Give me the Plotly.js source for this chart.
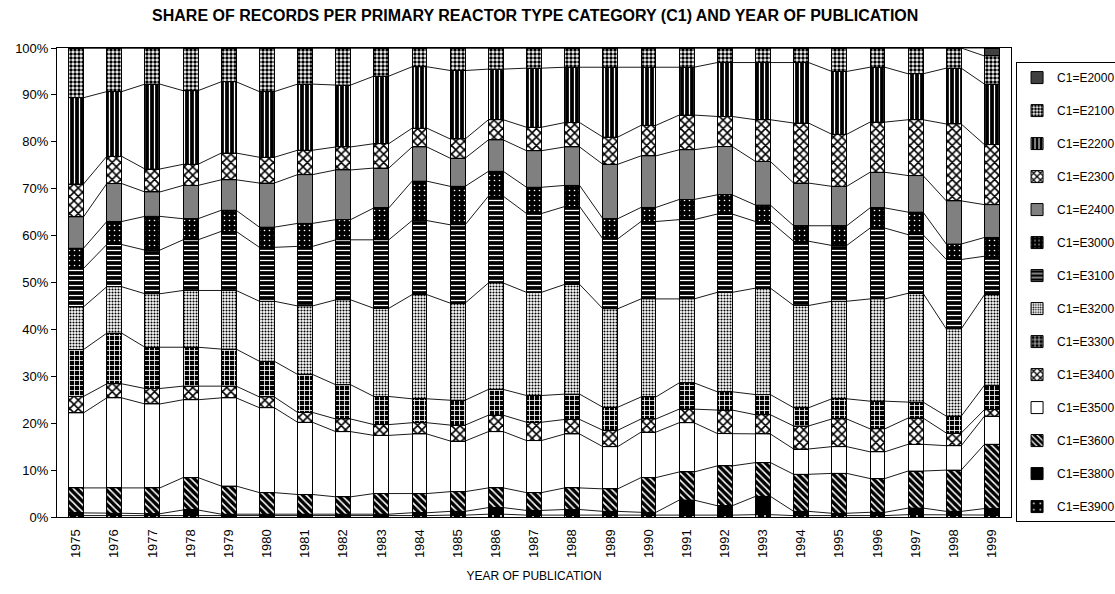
<!DOCTYPE html>
<html>
<head>
<meta charset="utf-8">
<script src="https://cdn.plot.ly/plotly-3.0.1.min.js"></script>
<style>html,body{margin:0;padding:0;background:#fff;}#chart{width:1115px;height:594px;}</style>
</head>
<body>
<div id="chart"></div>
<script>
// Years of publication (categories)
const years = ["1975","1976","1977","1978","1979","1980","1981","1982","1983","1984","1985","1986","1987","1988","1989","1990","1991","1992","1993","1994","1995","1996","1997","1998","1999"];

// Share (%) of records per C1 category, per year, bottom of stack first
const E3900 = [0.3,0.3,0.3,0.3,0.2,0.2,0.2,0.2,0.2,0.3,0.4,0.6,0.4,0.4,0.4,0.3,0.4,0.4,0.5,0.3,0.3,0.3,0.5,0.4,0.4];
const E3800 = [0.6,0.5,0.4,1.2,0.4,0.4,0.4,0.3,0.4,0.6,0.8,1.4,1.0,1.2,0.8,0.7,3.2,2.0,3.9,0.9,0.5,0.7,1.4,0.8,1.4];
const E3600 = [5.3,5.4,5.5,6.9,6.0,4.6,4.2,3.8,4.4,4.1,4.2,4.2,3.8,4.6,4.8,7.4,6.0,8.5,7.2,7.9,8.5,7.2,7.9,8.8,13.7];
const E3500 = [16.0,19.2,17.9,16.6,18.8,18.1,15.4,13.9,12.4,12.7,10.8,12.0,11.1,11.5,9.0,9.7,10.5,6.9,6.1,5.4,5.7,5.7,5.7,5.2,6.0];
const E3400 = [3.5,3.0,3.3,2.9,2.5,2.3,2.1,2.7,2.3,2.4,3.4,3.5,3.9,3.1,3.5,2.8,2.9,5.0,4.1,4.9,5.9,4.9,5.6,2.7,1.4];
const E3300 = [10.0,10.8,8.8,8.3,7.9,7.6,8.1,7.3,6.0,5.1,5.3,5.5,5.7,5.4,4.9,4.7,5.6,3.9,4.3,3.9,4.3,5.9,3.4,3.6,5.2];
const E3200 = [9.1,9.9,11.4,12.1,12.5,12.8,14.6,18.1,18.8,22.2,20.7,22.7,22.0,23.4,21.0,20.9,17.9,21.2,22.7,21.8,20.8,21.8,23.2,18.6,19.3];
const E3100 = [8.2,9.0,9.3,10.8,12.6,11.5,12.7,12.8,14.6,15.8,16.7,18.5,16.8,16.6,14.9,16.5,16.9,16.7,14.2,13.7,11.9,15.1,12.5,14.8,8.2];
const E3000 = [4.3,4.9,7.2,4.5,4.5,4.3,4.9,4.3,6.8,8.4,8.2,5.3,5.6,4.5,4.3,3.0,4.3,4.1,3.5,3.3,4.2,4.3,4.8,3.3,4.0];
const E2400 = [6.7,8.1,5.2,7.1,6.5,9.4,10.4,10.6,8.5,7.3,6.0,6.7,7.8,8.2,11.6,11.0,10.6,10.3,9.3,9.1,8.4,7.6,7.8,9.2,7.0];
const E2300 = [7.0,5.8,4.9,4.5,5.7,5.5,5.2,4.9,5.2,4.0,4.1,4.3,5.0,5.2,5.8,6.5,7.4,6.4,8.9,12.8,11.1,10.7,11.9,16.4,12.8];
const E2200 = [18.4,13.8,18.1,15.7,15.2,14.0,14.1,13.2,14.4,13.1,14.6,10.8,12.6,11.8,14.9,12.4,10.2,11.5,12.2,12.9,13.4,11.7,9.8,11.9,12.9];
const E2100 = [10.6,9.3,7.7,9.1,7.2,9.3,7.7,7.9,6.0,4.0,4.8,4.5,4.3,4.1,4.1,4.1,4.1,3.1,3.1,3.1,5.0,4.1,5.5,4.3,6.0];
const E2000 = [0,0,0,0,0,0,0,0,0,0,0,0,0,0,0,0,0,0,0,0,0,0,0,0,1.7];

const seriesNames = ["C1=E3900","C1=E3800","C1=E3600","C1=E3500","C1=E3400","C1=E3300","C1=E3200","C1=E3100","C1=E3000","C1=E2400","C1=E2300","C1=E2200","C1=E2100","C1=E2000"];
const seriesData = [E3900,E3800,E3600,E3500,E3400,E3300,E3200,E3100,E3000,E2400,E2300,E2200,E2100,E2000];

// fill styles (black & white Excel-like patterns)
const styles = [
  {color:"#000", pattern:{shape:".", bgcolor:"#000", fgcolor:"#fff", size:8, solidity:0.05, fillmode:"replace"}},
  {color:"#000"},
  {color:"#000", pattern:{shape:"\\", bgcolor:"#000", fgcolor:"#fff", size:5, solidity:0.3, fillmode:"replace"}},
  {color:"#fff"},
  {color:"#fff", pattern:{shape:"x", bgcolor:"#fff", fgcolor:"#000", size:6, solidity:0.45, fillmode:"replace"}},
  {color:"#000", pattern:{shape:"+", bgcolor:"#000", fgcolor:"#fff", size:5, solidity:0.3, fillmode:"replace"}},
  {color:"#ccc", pattern:{shape:".", bgcolor:"#fff", fgcolor:"#000", size:3, solidity:0.4, fillmode:"replace"}},
  {color:"#000", pattern:{shape:"-", bgcolor:"#000", fgcolor:"#fff", size:5, solidity:0.25, fillmode:"replace"}},
  {color:"#000", pattern:{shape:".", bgcolor:"#000", fgcolor:"#fff", size:5, solidity:0.08, fillmode:"replace"}},
  {color:"#808080"},
  {color:"#fff", pattern:{shape:"x", bgcolor:"#fff", fgcolor:"#000", size:6, solidity:0.45, fillmode:"replace"}},
  {color:"#000", pattern:{shape:"|", bgcolor:"#000", fgcolor:"#fff", size:5, solidity:0.25, fillmode:"replace"}},
  {color:"#fff", pattern:{shape:".", bgcolor:"#fff", fgcolor:"#000", size:4, solidity:0.6, fillmode:"replace"}},
  {color:"#404040"}
];

const xs = years.map((y,i)=>i);
const totals = xs.map(i => seriesData.reduce((s,arr)=>s+arr[i],0));
const pct = seriesData.map(arr => arr.map((v,i)=>v/totals[i]*100));
const nS = seriesNames.length;

const BW = 0.39;
const traces = [];
pct.forEach((vals,k)=>{
  const st = styles[k];
  const marker = {color: st.color, line:{color:"#000", width:1}};
  if (st.pattern) marker.pattern = st.pattern;
  traces.push({type:"bar", x:xs, y:vals, name:seriesNames[k], width:BW, marker:marker,
    legendgroup:seriesNames[k], legendrank:nS-k, hoverinfo:"name+y"});
});

// Series lines connecting the top of each stacked segment between bars
const cum = xs.map(()=>0);
pct.forEach((vals,k)=>{
  const lx=[], ly=[];
  xs.forEach(i=>{
    cum[i]+=vals[i];
    lx.push(i-BW/2, i+BW/2);
    ly.push(cum[i], cum[i]);
  });
  traces.push({type:"scatter", mode:"lines", x:lx, y:ly, showlegend:false, hoverinfo:"skip",
    legendgroup:seriesNames[k], legendrank:nS-k, line:{color:"#000", width:0.9}});
});

const FONT = "Liberation Sans, Arial, sans-serif";
const layout = {
  width:1115, height:594,
  paper_bgcolor:"#fff", plot_bgcolor:"#fff",
  barmode:"stack", bargap:0,
  margin:{l:57, r:104, t:48, b:77, autoexpand:false},
  font:{family:FONT, size:13, color:"#000"},
  title:{text:"<b>SHARE OF RECORDS PER PRIMARY REACTOR TYPE CATEGORY (C1) AND YEAR OF PUBLICATION</b>",
    font:{family:FONT, size:16, color:"#000"}, x:0.48, xanchor:"center", y:0.974, yanchor:"middle"},
  xaxis:{type:"linear", range:[-0.5,24.5], tickmode:"array", tickvals:xs, ticktext:years,
    tickangle:-90, ticks:"", showgrid:false, zeroline:false, showline:true, linecolor:"#000", linewidth:1, mirror:true,
    tickfont:{size:13}, ticklabelstandoff:6,
    title:{text:"YEAR OF PUBLICATION", font:{size:12}, standoff:14}, automargin:false},
  yaxis:{range:[0,100], tickmode:"array", tickvals:[0,10,20,30,40,50,60,70,80,90,100],
    ticktext:["0%","10%","20%","30%","40%","50%","60%","70%","80%","90%","100%"],
    ticks:"outside", ticklen:5, tickcolor:"#000", showgrid:false, zeroline:false,
    showline:true, linecolor:"#000", linewidth:1, mirror:true, tickfont:{size:13}, automargin:false},
  legend:{x:1.0053, xanchor:"left", y:0.97, yanchor:"top", traceorder:"grouped", tracegroupgap:14,
    bordercolor:"#000", borderwidth:1, bgcolor:"#fff", font:{size:12}, itemwidth:30},
  showlegend:true
};

Plotly.newPlot("chart", traces, layout, {displayModeBar:false, staticPlot:true});
</script>
</body>
</html>
